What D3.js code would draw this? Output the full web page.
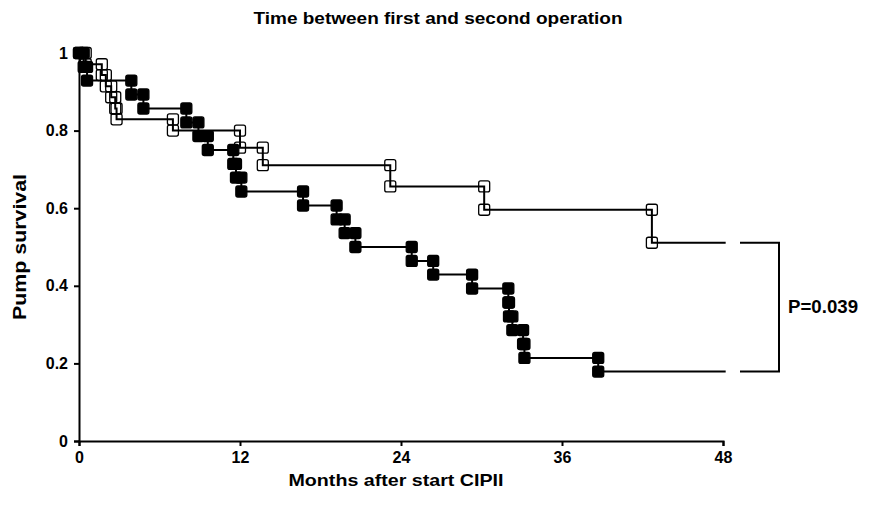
<!DOCTYPE html>
<html>
<head>
<meta charset="utf-8">
<script src="https://cdn.jsdelivr.net/npm/d3@7"></script>
<style>
  body { margin: 0; background: #fff; }
  svg { display: block; font-family: "Liberation Sans", Arial, sans-serif; }
</style>
</head>
<body>
<div id="chart"></div>
<script>
// Kaplan-Meier data: event time (months) and survival after the event
const filledTimes = [0.35, 0.6, 3.9, 4.8, 8.0, 8.9, 9.6, 11.5, 11.7, 12.1, 16.7, 19.2, 19.8, 20.6,
                     24.8, 26.4, 29.3, 32.0, 32.05, 32.3, 33.1, 33.2, 38.7];
const filledSurv  = [0.964, 0.929, 0.893, 0.857, 0.821, 0.786, 0.75, 0.714, 0.679, 0.643, 0.607, 0.571, 0.536, 0.5,
                     0.464, 0.429, 0.393, 0.357, 0.321, 0.286, 0.25, 0.214, 0.179];
const openTimes = [0.5, 1.7, 2.0, 2.4, 2.7, 2.8, 7.0, 12.0, 13.7, 23.2, 30.2, 42.7];
const openSurv  = [0.971, 0.943, 0.914, 0.886, 0.857, 0.829, 0.8, 0.756, 0.711, 0.656, 0.596, 0.511];
const endTime = 48.2;

const xTicks = [0, 12, 24, 36, 48];
const yTicks = [0, 0.2, 0.4, 0.6, 0.8, 1];
const titleText = "Time between first and second operation";
const xLabel = "Months after start CIPII";
const yLabel = "Pump survival";
const pText = "P=0.039";

const width = 870, height = 509;
const margin = { top: 53, right: 147, bottom: 68, left: 79 };

const svg = d3.select("#chart").append("svg")
    .attr("width", width)
    .attr("height", height);

const x = d3.scaleLinear().domain([0, 48]).range([margin.left, width - margin.right]);
const y = d3.scaleLinear().domain([0, 1]).range([height - margin.bottom, margin.top]);

// step points: at each event a point at old level and one at new level
function stepPoints(times, surv) {
    const pts = [[0, 1]];
    let prev = 1;
    times.forEach((t, i) => {
        pts.push([t, prev]);
        pts.push([t, surv[i]]);
        prev = surv[i];
    });
    return pts;
}

const series = [
    { pts: stepPoints(filledTimes, filledSurv), fill: "#000" },
    { pts: stepPoints(openTimes, openSurv), fill: "none" }
];

const line = d3.line().x(d => x(d[0])).y(d => y(d[1]));

// axes
const xAxis = svg.append("g")
    .attr("transform", `translate(0,${y(0)})`)
    .call(d3.axisBottom(x).tickValues(xTicks).tickSize(5).tickPadding(6));
xAxis.select(".domain").attr("stroke", "#000").attr("stroke-width", 2);
xAxis.selectAll("line").attr("stroke", "#000").attr("stroke-width", 2);
xAxis.selectAll("text").attr("fill", "#000").style("font-size", "16px").style("font-weight", "bold");

const yAxis = svg.append("g")
    .attr("transform", `translate(${x(0)},0)`)
    .call(d3.axisLeft(y).tickValues(yTicks).tickSize(5).tickPadding(6)
        .tickFormat(d => d === 0 || d === 1 ? d : d3.format(".1f")(d)));
yAxis.select(".domain").attr("stroke", "#000").attr("stroke-width", 2);
yAxis.selectAll("line").attr("stroke", "#000").attr("stroke-width", 2);
yAxis.selectAll("text").attr("fill", "#000").style("font-size", "16px").style("font-weight", "bold");

// curves
series.forEach(s => {
    svg.append("path")
        .datum(s.pts.concat([[endTime, s.pts[s.pts.length - 1][1]]]))
        .attr("d", line)
        .attr("fill", "none")
        .attr("stroke", "#000")
        .attr("stroke-width", 2);
});

series.forEach(s => {
    svg.append("g").selectAll("rect")
        .data(s.pts).join("rect")
        .attr("x", d => x(d[0]) - 5.5)
        .attr("y", d => y(d[1]) - 5.5)
        .attr("width", 11).attr("height", 11)
        .attr("rx", 2)
        .attr("fill", s.fill)
        .attr("stroke", "#000")
        .attr("stroke-width", 1.3);
});

// bracket with p-value
const yTop = y(openSurv[openSurv.length - 1]);
const yBot = y(filledSurv[filledSurv.length - 1]);
const bx0 = x(48) + 17, bx1 = x(48) + 56;
svg.append("path")
    .attr("d", `M${bx0},${yTop}H${bx1}V${yBot}H${bx0}`)
    .attr("fill", "none").attr("stroke", "#000").attr("stroke-width", 2);
svg.append("text")
    .attr("x", bx1 + 9).attr("y", (yTop + yBot) / 2)
    .attr("dy", "0.35em")
    .attr("textLength", 70).attr("lengthAdjust", "spacingAndGlyphs")
    .style("font-size", "18px").style("font-weight", "bold")
    .text(pText);

// titles
svg.append("text")
    .attr("x", 438).attr("y", 24)
    .attr("text-anchor", "middle")
    .attr("textLength", 369).attr("lengthAdjust", "spacingAndGlyphs")
    .style("font-size", "17px").style("font-weight", "bold")
    .text(titleText);

svg.append("text")
    .attr("x", x(24) - 5).attr("y", 486)
    .attr("text-anchor", "middle")
    .attr("textLength", 215).attr("lengthAdjust", "spacingAndGlyphs")
    .style("font-size", "17px").style("font-weight", "bold")
    .text(xLabel);

svg.append("text")
    .attr("transform", `translate(26,${(y(0) + y(1)) / 2}) rotate(-90)`)
    .attr("text-anchor", "middle")
    .attr("textLength", 146).attr("lengthAdjust", "spacingAndGlyphs")
    .style("font-size", "18px").style("font-weight", "bold")
    .text(yLabel);
</script>
</body>
</html>
